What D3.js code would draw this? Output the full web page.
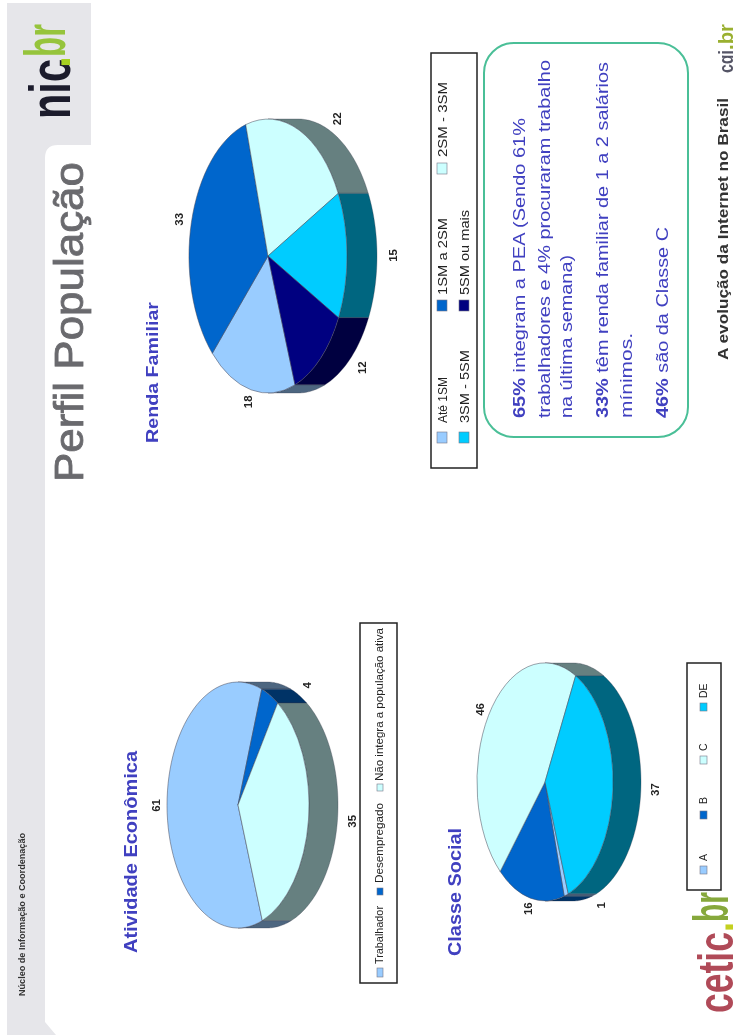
<!DOCTYPE html>
<html><head><meta charset="utf-8">
<script src="https://cdn.jsdelivr.net/npm/d3@7"></script>
<style>html,body{margin:0;padding:0;background:#fff}svg{display:block;filter:blur(0.45px)}text{font-family:"Liberation Sans",Arial,sans-serif}</style>
</head><body><div id="c"></div>
<script>
const rendaCategories = ["Até 1SM","1SM a 2SM","2SM - 3SM","3SM - 5SM","5SM ou mais"];
const rendaValues = [18,33,22,15,12];
const atividadeCategories = ["Trabalhador","Desempregado","Não integra a população ativa"];
const atividadeValues = [61,4,35];
const classeCategories = ["A","B","C","DE"];
const classeValues = [1,16,46,37];
const rendaColors = ["#99ccff","#0066cc","#ccffff","#00ccff","#000080"];
const atividadeColors = ["#99ccff","#0066cc","#ccffff"];
const classeColors = ["#99ccff","#0066cc","#ccffff","#00ccff"];
const W=733,H=1036,BLUE="#4040c0",NARROW='"Liberation Sans Narrow","Liberation Sans"';
const svg=d3.select("#c").append("svg").attr("width",W).attr("height",H);

svg.append("path").attr("fill","#e6e6ea")
  .attr("d","M7,3H91V145H58Q45,145 45,158V1022L56,1035H7Z");

function vtext(x,y,str,o={}){
  const t=svg.append("text").attr("transform",`translate(${x},${y}) rotate(-90)`)
    .attr("font-size",o.size||12).attr("fill",o.fill||"#000").attr("font-weight",o.weight||"normal");
  if(o.family)t.style("font-family",o.family);
  if(o.stroke)t.attr("stroke",o.fill).attr("stroke-width",o.stroke);
  if(o.len)t.attr("textLength",o.len).attr("lengthAdjust","spacingAndGlyphs");
  if(Array.isArray(str)){str.forEach(s=>t.append("tspan").attr("font-weight",s[1]?"bold":"normal").text(s[0]));}
  else t.text(str);
  return t;
}

function pie3d(values,colors,g){
  const pie=d3.pie().sort(null).startAngle(250*Math.PI/180).endAngle((250+360)*Math.PI/180).value(d=>d);
  const arcs=pie(values);
  const px=d3.scaleLinear().domain([-1,1]).range([g.cx-g.rv,g.cx+g.rv]);
  const py=d3.scaleLinear().domain([-1,1]).range([g.cy-g.ru,g.cy+g.ru]);
  const line=d3.line();
  const TAU=2*Math.PI, lo=Math.PI/2, hi=1.5*Math.PI;
  arcs.forEach((a,i)=>{
    [0,TAU].forEach(shift=>{
      const s=Math.max(a.startAngle-shift,lo), e=Math.min(a.endAngle-shift,hi);
      if(e<=s)return;
      const th=d3.range(s,e,0.02).concat([e]);
      const top=th.map(t=>[px(-Math.cos(t)),py(-Math.sin(t))]);
      const bot=top.slice().reverse().map(p=>[p[0]+g.depth,p[1]]);
      svg.append("path").attr("d",line(top.concat(bot))+"Z")
        .attr("fill",d3.interpolateRgb(colors[i],"#000")(0.5))
        .attr("stroke","#334").attr("stroke-width",0.3);
    });
  });
  const face=svg.append("g").attr("transform",`translate(${g.cx},${g.cy}) rotate(-90) scale(${g.ru},${g.rv})`);
  const arc=d3.arc().innerRadius(0).outerRadius(1);
  face.selectAll("path").data(arcs).join("path").attr("d",arc)
    .attr("fill",(d,i)=>colors[i]).attr("stroke","#445").attr("stroke-width",0.5)
    .attr("vector-effect","non-scaling-stroke");
  arcs.forEach(a=>{
    const m=(a.startAngle+a.endAngle)/2, c=-Math.cos(m), s=-Math.sin(m);
    const x=g.cx+c*g.rv*1.16+(c>0?g.depth+3:0), y=g.cy+s*g.ru*1.09;
    svg.append("text").attr("transform",`translate(${x+4},${y}) rotate(-90)`)
      .attr("text-anchor","middle").attr("font-size",11.5).attr("font-weight","bold").attr("fill","#222").text(a.data);
  });
}

function legend(box,items){
  svg.append("rect").attr("x",box[0]).attr("y",box[1]).attr("width",box[2]).attr("height",box[3])
    .attr("fill","#fff").attr("stroke","#222").attr("stroke-width",1.5);
  items.forEach(d=>{
    svg.append("rect").attr("x",d.sx).attr("y",d.sy).attr("width",d.sw).attr("height",d.sh)
      .attr("fill",d.color).attr("stroke","#778").attr("stroke-width",0.6);
    vtext(d.bx,d.ty,d.label,{size:d.size,fill:"#222",len:d.len});
  });
}

/* header, footer */
vtext(83,482,"Perfil População",{size:41,fill:"#6a6a6e",len:320,stroke:0.8});
vtext(70,119,"nic",{size:58,weight:"bold",fill:"#1c1c2c",family:NARROW,len:60});
vtext(70,68,".",{size:58,weight:"bold",fill:"#a6d020",family:NARROW,len:12});
vtext(65,57,"br",{size:58,weight:"bold",fill:"#96c43c",family:NARROW,len:33});
vtext(25,996,"Núcleo de Informação e Coordenação",{size:9,fill:"#333",len:163,weight:"bold"});
vtext(728,360,"A evolução da Internet no Brasil",{size:15,weight:"bold",fill:"#333",len:262});
vtext(733,73,"cgi",{size:20,family:NARROW,weight:"bold",fill:"#556",len:23});
vtext(733,50,".br",{size:20,family:NARROW,weight:"bold",fill:"#9ab030",len:26});
vtext(733,1013,"cetic",{size:50,weight:"bold",fill:"#b04a58",family:NARROW,len:81});
vtext(733,932,".",{size:50,weight:"bold",fill:"#c4d020",family:NARROW,len:10});
vtext(728,922,"br",{size:50,weight:"bold",fill:"#86a83c",family:NARROW,len:30});

/* titles */
vtext(158,443,"Renda Familiar",{size:16,weight:"bold",fill:BLUE,len:141});
vtext(137,953,"Atividade Econômica",{size:19,weight:"bold",fill:BLUE,len:202});
vtext(461,956,"Classe Social",{size:19,weight:"bold",fill:BLUE,len:128});

/* pies */
pie3d(rendaValues,rendaColors,{cx:268,cy:256,rv:79,ru:137,depth:30});
pie3d(atividadeValues,atividadeColors,{cx:238,cy:805,rv:71,ru:123,depth:29});
pie3d(classeValues,classeColors,{cx:545,cy:782,rv:68,ru:119,depth:28});

/* legends */
legend([431,53,46,415],[
 {label:rendaCategories[0],color:rendaColors[0],sx:437,sy:432,sw:10,sh:11,bx:447,ty:423,size:13.5,len:46},
 {label:rendaCategories[1],color:rendaColors[1],sx:437,sy:300,sw:10,sh:11,bx:447,ty:295,size:13.5,len:77},
 {label:rendaCategories[2],color:rendaColors[2],sx:437,sy:163,sw:10,sh:11,bx:447,ty:157,size:13.5,len:75},
 {label:rendaCategories[3],color:rendaColors[3],sx:459,sy:432,sw:10,sh:11,bx:469,ty:423,size:13.5,len:73},
 {label:rendaCategories[4],color:rendaColors[4],sx:459,sy:300,sw:10,sh:11,bx:469,ty:295,size:13.5,len:85}
]);
legend([360,623,37,360],[
 {label:atividadeCategories[0],color:atividadeColors[0],sx:377,sy:968,sw:6,sh:9,bx:383,ty:964,size:10.5,len:58},
 {label:atividadeCategories[1],color:atividadeColors[1],sx:377,sy:888,sw:6,sh:7,bx:383,ty:883,size:10.5,len:80},
 {label:atividadeCategories[2],color:atividadeColors[2],sx:377,sy:784,sw:6,sh:7,bx:383,ty:781,size:10.5,len:153}
]);
legend([687,663,34,227],[
 {label:classeCategories[0],color:classeColors[0],sx:700,sy:866,sw:7,sh:8,bx:707,ty:861,size:10.5},
 {label:classeCategories[1],color:classeColors[1],sx:700,sy:811,sw:7,sh:8,bx:707,ty:804,size:10.5},
 {label:classeCategories[2],color:classeColors[2],sx:700,sy:756,sw:7,sh:8,bx:707,ty:751,size:10.5},
 {label:classeCategories[3],color:classeColors[3],sx:700,sy:703,sw:7,sh:8,bx:707,ty:698,size:10.5}
]);

/* callout */
svg.append("rect").attr("x",484).attr("y",43).attr("width",204).attr("height",394).attr("rx",30).attr("ry",30)
  .attr("fill","#fff").attr("stroke","#4abf97").attr("stroke-width",2);
const calloutLines=[
 {x:525,len:300,s:[["65%",1],[" integram a PEA (Sendo 61%",0]]},
 {x:550,len:358,s:[["trabalhadores e 4% procuraram trabalho",0]]},
 {x:572,len:163,s:[["na última semana)",0]]},
 {x:608,len:356,s:[["33%",1],[" têm renda familiar de 1 a 2 salários",0]]},
 {x:632,len:85,s:[["mínimos.",0]]},
 {x:668,len:191,s:[["46%",1],[" são da Classe C",0]]}
];
calloutLines.forEach(l=>vtext(l.x,418,l.s,{size:17,fill:BLUE,len:l.len}));
</script></body></html>
